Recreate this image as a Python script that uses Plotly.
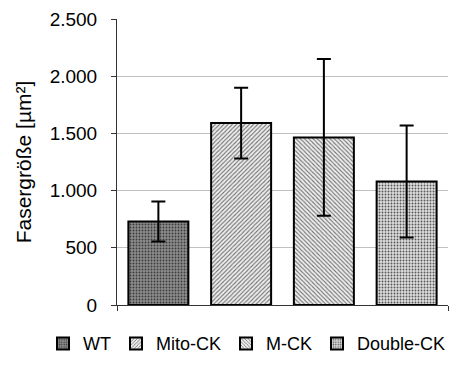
import plotly.graph_objects as go

categories = ["WT", "Mito-CK", "M-CK", "Double-CK"]
values = [730, 1590, 1465, 1080]
errors = [175, 310, 685, 490]
y_ticks = [0, 500, 1000, 1500, 2000, 2500]

patterns = [
    dict(shape=".", bgcolor="#8c8c8c", fgcolor="#3c3c3c", size=3, solidity=0.3),
    dict(shape="/", bgcolor="#eeeeee", fgcolor="#707070", size=3, solidity=0.35),
    dict(shape="\\", bgcolor="#eeeeee", fgcolor="#707070", size=3, solidity=0.35),
    dict(shape=".", bgcolor="#dcdcdc", fgcolor="#555555", size=3, solidity=0.3),
]

fig = go.Figure()
for cat, v, e, p in zip(categories, values, errors, patterns):
    fig.add_trace(go.Bar(
        x=[cat], y=[v], name=cat,
        marker=dict(color=p["bgcolor"], line=dict(color="black", width=2),
                    pattern=dict(shape=p["shape"], bgcolor=p["bgcolor"], fgcolor=p["fgcolor"],
                                 size=p["size"], solidity=p["solidity"], fillmode="replace")),
        error_y=dict(type="data", array=[e], visible=True, color="black", thickness=2, width=7),
    ))

fig.update_layout(
    width=451, height=369,
    margin=dict(l=117, r=3, t=19, b=64),
    paper_bgcolor="white", plot_bgcolor="white",
    barmode="overlay", bargap=0.275,
    separators=",.",
    font=dict(family="Liberation Sans, Arial, sans-serif", size=19, color="black"),
    showlegend=True,
    legend=dict(orientation="h", x=-0.19, xanchor="left", y=-0.2, yanchor="bottom",
                font=dict(size=18), itemwidth=30, traceorder="normal"),
)
fig.update_yaxes(
    range=[0, 2500], tickvals=y_ticks, tickformat=",d",
    showgrid=True, gridcolor="#c0c0c0", gridwidth=1,
    showline=True, linecolor="#333333", linewidth=1,
    ticks="outside", ticklen=5, tickcolor="#333333",
    ticklabelstandoff=10, tickfont=dict(size=19),
    zeroline=False,
    title=dict(text="Fasergröße [µm²]", font=dict(size=21), standoff=12),
)
fig.update_xaxes(
    showline=True, linecolor="#333333", linewidth=1,
    showticklabels=False, tickvals=[-0.5, 3.5], ticktext=["", ""],
    ticks="outside", ticklen=5, tickcolor="#333333",
    range=[-0.5, 3.5], showgrid=False,
)
fig.write_html("out.html")
